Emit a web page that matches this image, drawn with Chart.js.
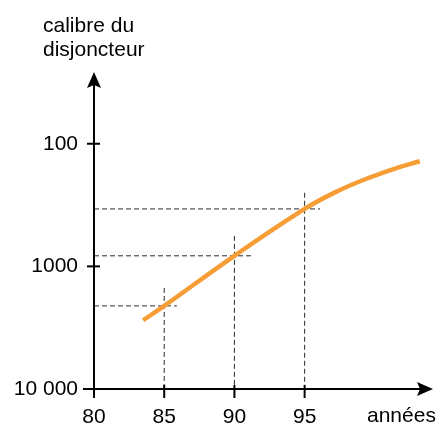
<!DOCTYPE html>
<html>
<head>
<meta charset="utf-8">
<script src="https://cdn.jsdelivr.net/npm/chart.js@4"></script>
<style>
  html, body { margin: 0; padding: 0; background: #fff; }
  #wrap { width: 438px; height: 426px; }
</style>
</head>
<body>
<div id="wrap"><canvas id="chart"></canvas></div>
<script>
// courbe : année -> calibre du disjoncteur (échelle log inversée)
const annees = [83.5, 85, 90, 95, 97.2, 99.4, 101.6, 103.2];
const calibres = [2750, 2100, 820, 340, 248, 193, 157, 139];

// lectures en pointillés
const lectureAnnees = [85, 90, 95];
const lectureCalibres = [2100, 820, 340];
const finHorizontale = [85.9, 91.2, 96.1];
const hautVerticale = [1500, 564, 251];

const xTicks = [80, 85, 90, 95];
const yTicks = [100, 1000, 10000];
const yLabels = { 100: "100", 1000: "1000", 10000: "10 000" };

const police = "'Liberation Sans', Arial, sans-serif";

document.addEventListener("DOMContentLoaded", function () {
  const canvas = document.getElementById("chart");

  const datasets = [{
    data: annees.map((a, i) => ({ x: a, y: calibres[i] })),
    borderColor: "#F79D36",
    borderWidth: 4.5,
    pointRadius: 0,
    tension: 0.4,
    order: 0
  }];

  lectureAnnees.forEach((a, i) => {
    datasets.push({
      data: [{ x: 80, y: lectureCalibres[i] }, { x: finHorizontale[i], y: lectureCalibres[i] }],
      borderColor: "#2a2a2a",
      borderWidth: 1,
      borderDash: [5, 3],
      pointRadius: 0,
      order: 1
    });
    datasets.push({
      data: [{ x: a, y: hautVerticale[i] }, { x: a, y: 10000 }],
      borderColor: "#2a2a2a",
      borderWidth: 1,
      borderDash: [5, 3],
      pointRadius: 0,
      order: 1
    });
  });

  const axes = {
    id: "axes",
    afterDraw(chart) {
      const ctx = chart.ctx;
      const xs = chart.scales.x;
      const ys = chart.scales.y;
      const x0 = xs.getPixelForValue(80);
      const y0 = ys.getPixelForValue(10000);
      const top = chart.chartArea.top;
      const right = chart.chartArea.right + 2;

      ctx.save();
      ctx.strokeStyle = "#000";
      ctx.fillStyle = "#000";
      ctx.lineWidth = 2;

      // axe vertical
      ctx.beginPath();
      ctx.moveTo(x0, y0 + 9);
      ctx.lineTo(x0, top + 10);
      ctx.stroke();
      ctx.beginPath();
      ctx.moveTo(x0, top);
      ctx.lineTo(x0 - 7, top + 16);
      ctx.lineTo(x0, top + 13);
      ctx.lineTo(x0 + 7, top + 16);
      ctx.closePath();
      ctx.fill();

      // axe horizontal
      ctx.beginPath();
      ctx.moveTo(x0 - 11, y0);
      ctx.lineTo(right - 10, y0);
      ctx.stroke();
      ctx.beginPath();
      ctx.moveTo(right, y0);
      ctx.lineTo(right - 16, y0 - 7);
      ctx.lineTo(right - 13, y0);
      ctx.lineTo(right - 16, y0 + 7);
      ctx.closePath();
      ctx.fill();

      // graduations
      yTicks.forEach(v => {
        const y = ys.getPixelForValue(v);
        ctx.beginPath();
        ctx.moveTo(x0 - 7, y);
        ctx.lineTo(x0 + 6, y);
        ctx.stroke();
      });
      xTicks.forEach(v => {
        const x = xs.getPixelForValue(v);
        ctx.beginPath();
        ctx.moveTo(x, y0 - 4);
        ctx.lineTo(x, y0 + 9);
        ctx.stroke();
      });

      // titres
      ctx.font = "21px " + police;
      ctx.textAlign = "left";
      ctx.textBaseline = "alphabetic";
      ctx.fillText("calibre du", 43, 32);
      ctx.fillText("disjoncteur", 43, 56);
      ctx.fillText("années", 367, 422);
      ctx.restore();
    }
  };

  new Chart(canvas, {
    type: "line",
    data: { datasets },
    options: {
      responsive: true,
      maintainAspectRatio: false,
      animation: false,
      layout: { padding: { top: 72, right: 7, bottom: 0, left: 0 } },
      plugins: { legend: { display: false }, tooltip: { enabled: false } },
      scales: {
        x: {
          type: "linear",
          min: 80,
          max: 104,
          grid: { display: false, drawTicks: false },
          border: { display: false },
          afterBuildTicks: s => { s.ticks = xTicks.map(v => ({ value: v })); },
          afterFit: s => { s.height = 37; },
          ticks: {
            color: "#000",
            font: { family: police, size: 21 },
            padding: 16,
            maxRotation: 0,
            callback: v => String(v)
          }
        },
        y: {
          type: "logarithmic",
          reverse: true,
          min: 26,
          max: 10000,
          grid: { display: false, drawTicks: false },
          border: { display: false },
          afterBuildTicks: s => { s.ticks = yTicks.map(v => ({ value: v })); },
          afterFit: s => { s.width = 94; },
          ticks: {
            color: "#000",
            font: { family: police, size: 21 },
            padding: 16,
            callback: v => yLabels[v]
          }
        }
      }
    },
    plugins: [axes]
  });
});
</script>
</body>
</html>
